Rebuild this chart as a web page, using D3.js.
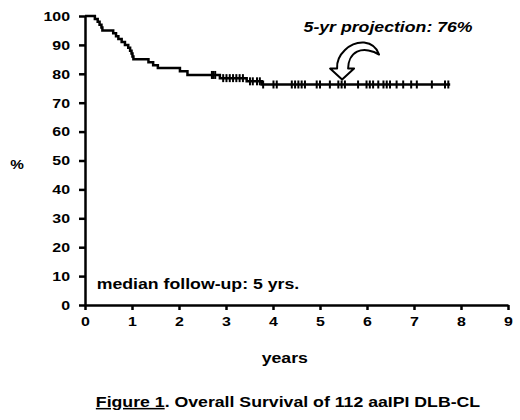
<!DOCTYPE html>
<html>
<head>
<meta charset="utf-8">
<script src="https://cdn.jsdelivr.net/npm/d3@7"></script>
<style>
  body { margin: 0; background: #fff; }
  svg { font-family: "Liberation Sans", Arial, sans-serif; font-weight: bold; }
</style>
</head>
<body>
<div id="chart"></div>
<script>
// step times (years) and survival (%) after each drop
const stepTimes = [0, 0.21, 0.27, 0.31, 0.35, 0.37, 0.60, 0.66, 0.71, 0.78, 0.85, 0.92, 0.96, 0.99, 1.01, 1.03,
                   1.35, 1.45, 1.55, 2.02, 2.18, 2.87, 3.44, 3.76];
const stepSurv  = [100, 99, 98, 97, 96, 95, 94, 93, 92, 91, 90, 89, 88, 87, 86, 85,
                   84, 83, 82, 80.9, 79.6, 78.5, 77.4, 76.3];
const lastFollowUp = 7.77;
// censored observations (years)
const censored = [2.70, 2.73, 2.77, 2.94, 3.01, 3.08, 3.15, 3.22, 3.29, 3.36, 3.51, 3.57, 3.66, 3.72, 3.79,
                  4.01, 4.08, 4.40, 4.47, 4.54, 4.61, 4.68, 4.93, 5.00, 5.21, 5.39, 5.46, 5.53, 5.81, 5.99,
                  6.06, 6.13, 6.24, 6.35, 6.42, 6.49, 6.63, 6.77, 6.94, 7.06, 7.38, 7.66, 7.73];
const xTicks = [0, 1, 2, 3, 4, 5, 6, 7, 8, 9];
const yTicks = [0, 10, 20, 30, 40, 50, 60, 70, 80, 90, 100];

const W = 520, H = 420;
const margin = { top: 16, right: 12, bottom: 115, left: 85 };
const width = W - margin.left - margin.right;
const height = H - margin.top - margin.bottom;
const stretch = 1.18; // lettering in the original is a bit wide

const svg = d3.select("#chart").append("svg")
    .attr("width", W)
    .attr("height", H);

const g = svg.append("g")
    .attr("transform", `translate(${margin.left},${margin.top})`);

const x = d3.scaleLinear().domain([0, 9]).range([0, width]);
const y = d3.scaleLinear().domain([0, 100]).range([height, 0]);

// axes
const yAxis = g.append("g")
    .call(d3.axisLeft(y).tickValues(yTicks).tickSize(6).tickSizeOuter(0));
const xAxis = g.append("g")
    .attr("transform", `translate(0,${height})`)
    .call(d3.axisBottom(x).tickValues(xTicks).tickSize(5).tickSizeOuter(0).tickPadding(6));

[xAxis, yAxis].forEach(a => {
    a.select(".domain").attr("stroke", "#000").attr("stroke-width", 2.5);
    a.selectAll(".tick line").attr("stroke", "#000").attr("stroke-width", 2.5);
    a.selectAll(".tick text")
        .attr("fill", "#000")
        .attr("transform", `scale(${stretch},1)`)
        .style("font-size", "13.5px")
        .style("font-weight", "bold")
        .style("font-family", "'Liberation Sans', Arial, sans-serif");
});
yAxis.selectAll(".tick text").attr("x", -15 / stretch);

// survival curve
const pts = stepTimes.map((t, i) => ({ t: t, s: stepSurv[i] }));
pts.push({ t: lastFollowUp, s: stepSurv[stepSurv.length - 1] });

const line = d3.line()
    .x(d => x(d.t))
    .y(d => y(d.s))
    .curve(d3.curveStepAfter);

g.append("path")
    .datum(pts)
    .attr("fill", "none")
    .attr("stroke", "#000")
    .attr("stroke-width", 2.5)
    .attr("d", line);

function survAt(t) {
    let s = 100;
    stepTimes.forEach((st, i) => { if (st <= t) s = stepSurv[i]; });
    return s;
}

g.selectAll(".cens")
    .data(censored)
    .enter().append("line")
    .attr("class", "cens")
    .attr("x1", d => x(d)).attr("x2", d => x(d))
    .attr("y1", d => y(survAt(d)) - 4)
    .attr("y2", d => y(survAt(d)) + 4)
    .attr("stroke", "#000")
    .attr("stroke-width", 2);

// labels
function label(parent, px, py, size, anchor, txt) {
    return parent.append("text")
        .attr("transform", `translate(${px},${py}) scale(${stretch},1)`)
        .attr("text-anchor", anchor)
        .style("font-size", size + "px")
        .text(txt);
}

label(svg, 17, 169, 13, "middle", "%");
label(svg, margin.left + x(4.25), 363, 15, "middle", "years");
label(g, x(0.25), y(5.5), 15, "start", "median follow-up: 5 yrs.");
label(g, x(4.65), y(94.5), 15, "start", "5-yr projection: 76%").style("font-style", "italic");

// curved hollow arrow pointing down at the curve
g.append("path")
    .attr("transform", `translate(${x(5.47)},${y(78)})`)
    .attr("d", "M0 0 L-12 -11 L-5 -11 C-6 -25 8 -38 22 -37 C30 -36 35 -31 37 -25 C31 -29 22 -31 15 -28 C9 -25 6 -18 6 -11 L12 -11 Z")
    .attr("fill", "#fff")
    .attr("stroke", "#000")
    .attr("stroke-width", 2)
    .attr("stroke-linejoin", "round");

// caption
const cap = label(svg, 288, 407, 15, "middle", null);
cap.append("tspan").style("text-decoration", "underline").text("Figure 1");
cap.append("tspan").text(". Overall Survival of 112 aaIPI DLB-CL");
</script>
</body>
</html>
